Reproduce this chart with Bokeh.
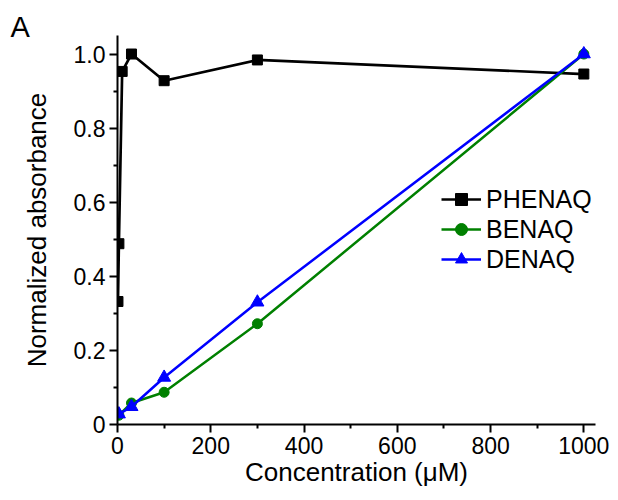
from bokeh.plotting import figure
from bokeh.models import Range1d, FixedTicker, Legend, LegendItem
from bokeh.embed import file_html
from bokeh.resources import INLINE

# Data
phenaq_x = [1, 3, 10, 30, 100, 300, 1000]
phenaq_y = [0.332, 0.488, 0.953, 1.0, 0.928, 0.984, 0.946]
benaq_x = [3, 30, 100, 300, 1000]
benaq_y = [0.025, 0.058, 0.087, 0.272, 1.0]
denaq_x = [3, 30, 100, 300, 1000]
denaq_y = [0.028, 0.048, 0.127, 0.330, 1.0]

x_ticks = [0, 200, 400, 600, 800, 1000]
x_minor = [100, 300, 500, 700, 900]
y_ticks = [0, 0.2, 0.4, 0.6, 0.8, 1.0]
y_tick_labels = ["0", "0.2", "0.4", "0.6", "0.8", "1.0"]
y_minor = [0.1, 0.3, 0.5, 0.7, 0.9]

FONT = "Liberation Sans"

p = figure(width=610, height=492, x_range=Range1d(0, 1025), y_range=Range1d(0, 1.05),
           output_backend="svg", toolbar_location=None,
           min_border_left=117, min_border_right=15, min_border_top=35, min_border_bottom=68)
p.outline_line_color = None
p.xgrid.visible = False
p.ygrid.visible = False
p.background_fill_color = "white"

p.title.text = "A"
p.title.text_font = FONT
p.title.text_font_size = "29px"
p.title.text_font_style = "normal"
p.title.text_color = "black"
p.title.align = "left"
p.title.offset = -107
p.title.standoff = -14

for ax in (p.xaxis[0], p.yaxis[0]):
    ax.axis_line_width = 2
    ax.axis_line_color = "black"
    ax.major_tick_line_width = 2
    ax.minor_tick_line_width = 2
    ax.major_tick_line_color = "black"
    ax.minor_tick_line_color = "black"
    ax.major_tick_out = 8
    ax.major_tick_in = 0
    ax.minor_tick_out = 4
    ax.minor_tick_in = 0
    ax.major_label_text_font = FONT
    ax.major_label_text_font_size = "23px"
    ax.major_label_text_color = "black"
    ax.axis_label_text_font = FONT
    ax.axis_label_text_font_size = "26px"
    ax.axis_label_text_font_style = "normal"
    ax.axis_label_text_color = "black"

p.xaxis.ticker = FixedTicker(ticks=x_ticks, minor_ticks=x_minor)
p.yaxis.ticker = FixedTicker(ticks=y_ticks, minor_ticks=y_minor)
p.yaxis.major_label_overrides = {t: l for t, l in zip(y_ticks, y_tick_labels)}
p.xaxis.axis_label = "Concentration (\u03bcM)"
p.yaxis.axis_label = "Normalized absorbance"
p.xaxis.major_label_standoff = 4
p.xaxis.axis_label_standoff = 0
p.yaxis.major_label_standoff = 4
p.yaxis.axis_label_standoff = 19

l1 = p.line(phenaq_x, phenaq_y, line_color="black", line_width=2.7)
s1 = p.scatter(phenaq_x, phenaq_y, marker="square", size=10, color="black")
l2 = p.line(benaq_x, benaq_y, line_color="#008000", line_width=2.5)
s2 = p.scatter(benaq_x, benaq_y, marker="circle", size=10, color="#008000")
l3 = p.line(denaq_x, denaq_y, line_color="#0000ff", line_width=2.5)
s3 = p.scatter(denaq_x, denaq_y, marker="triangle", size=13, color="#0000ff")

legend = Legend(items=[
    LegendItem(label="PHENAQ", renderers=[l1, s1]),
    LegendItem(label="BENAQ", renderers=[l2, s2]),
    LegendItem(label="DENAQ", renderers=[l3, s3]),
], location=(324, 150))
legend.background_fill_alpha = 0
legend.border_line_color = None
legend.padding = 0
legend.margin = 0
legend.spacing = 0
legend.glyph_width = 40
legend.glyph_height = 30
legend.label_height = 30
legend.label_standoff = 5
legend.label_text_font = FONT
legend.label_text_font_size = "25px"
legend.label_text_color = "black"
p.add_layout(legend)

open("out.html", "w").write(file_html(p, INLINE))
